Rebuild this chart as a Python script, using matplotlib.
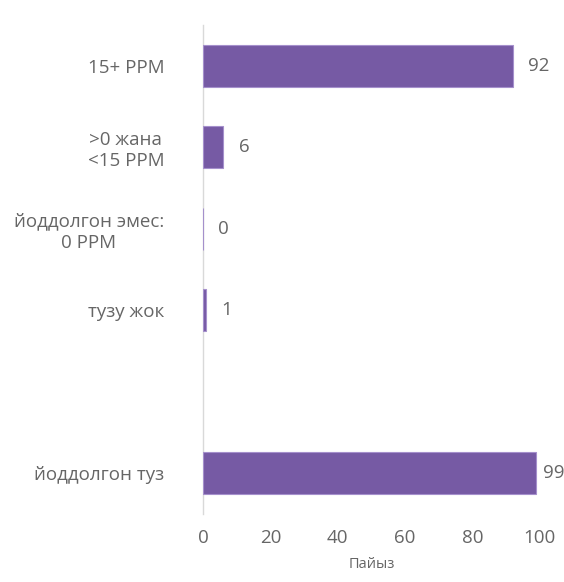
import numpy as np
import matplotlib
matplotlib.use("Agg")
import matplotlib.pyplot as plt

# Categories, top to bottom (an empty slot separates the last bar)
labels = ["15+ PPM", ">0 жана\n<15 PPM", "йоддолгон эмес:\n0 PPM", "тузу жок", "йоддолгон туз"]
values = [92, 6, 0, 1, 99]
slots = [0, 1, 2, 3, 5]

text_col = "#666666"
bar_col = "#765aa4"
edge_col = "#a590cc"

plt.rcParams["font.family"] = ["Open Sans", "DejaVu Sans"]

fig = plt.figure(figsize=(5.64, 5.82), dpi=100)
ax = fig.add_axes([0.360, 0.117, 0.597, 0.840])

ax.barh(slots, values, height=0.52, color=bar_col, edgecolor=edge_col, linewidth=0.8, zorder=2)

# value labels; the one near the right edge is pulled in so it stays inside
for s, v in zip(slots, values):
    off = 11 if v < 95 else 4.5
    ax.annotate(str(v), (v, s), xytext=(off, 0), textcoords="offset points",
                va="center", ha="left", fontsize=13.5, color=text_col,
                annotation_clip=False)

ax.set_ylim(5.5, -0.5)
ax.set_xlim(0, 100)
ax.set_yticks(slots)
ax.set_yticklabels(labels, fontsize=13.5, color=text_col, ha="right", multialignment="center")
ax.tick_params(axis="y", length=0, pad=28)
ax.set_xticks(range(0, 101, 20))
ax.tick_params(axis="x", length=0, labelsize=13.5, labelcolor=text_col, pad=11)
ax.set_xlabel("Пайыз", fontsize=10.5, color=text_col, labelpad=7)

for side in ["top", "right", "bottom"]:
    ax.spines[side].set_visible(False)
ax.spines["left"].set_color("#d9d9d9")
ax.spines["left"].set_linewidth(1.0)
ax.spines["left"].set_zorder(1)

fig.savefig("out.png", dpi=100)
